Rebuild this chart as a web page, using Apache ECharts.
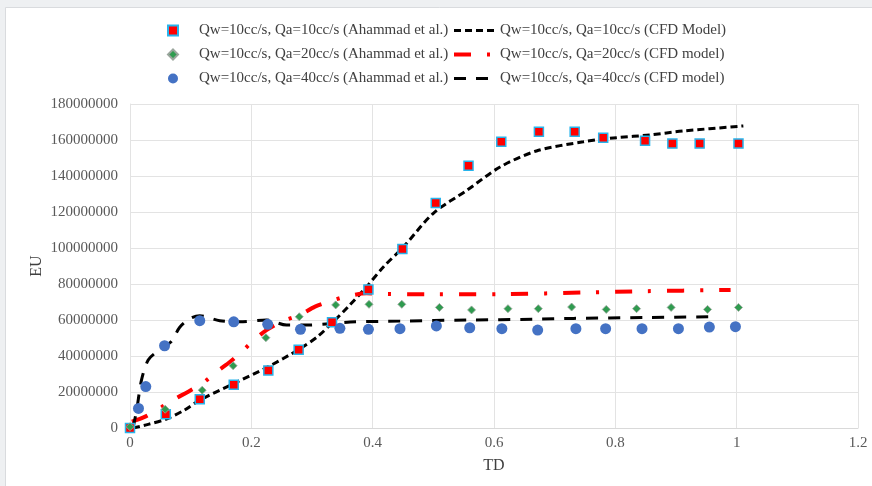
<!DOCTYPE html>
<html>
<head>
<meta charset="utf-8">
<script src="https://cdn.jsdelivr.net/npm/echarts@6/dist/echarts.min.js"></script>
<style>
  html, body { margin: 0; padding: 0; background: #eef0f2; }
  #chart { width: 872px; height: 486px; }
</style>
</head>
<body>
<div id="chart"></div>
<script>
// Experimental data (Ahammad et al.)
const exp10X = [0, 0.059, 0.115, 0.171, 0.228, 0.278, 0.333, 0.393, 0.449, 0.504, 0.558, 0.612, 0.674, 0.733, 0.780, 0.849, 0.894, 0.939, 1.003];
const exp10Y = [0, 7.6e6, 16e6, 24e6, 32e6, 43.5e6, 58.7e6, 77e6, 99.5e6, 125e6, 145.7e6, 159e6, 164.6e6, 164.6e6, 161.3e6, 159.6e6, 158e6, 158e6, 158e6];

const exp20X = [0, 0.058, 0.119, 0.170, 0.224, 0.279, 0.339, 0.394, 0.448, 0.510, 0.563, 0.623, 0.673, 0.728, 0.785, 0.835, 0.892, 0.952, 1.003];
const exp20Y = [0.7e6, 10.4e6, 21e6, 34.6e6, 50.2e6, 61.8e6, 68.4e6, 68.7e6, 68.7e6, 67e6, 65.6e6, 66.3e6, 66.3e6, 67.2e6, 65.9e6, 66.3e6, 67e6, 65.9e6, 67e6];

const exp40X = [0.014, 0.026, 0.057, 0.115, 0.171, 0.227, 0.281, 0.346, 0.393, 0.445, 0.505, 0.560, 0.613, 0.672, 0.735, 0.784, 0.844, 0.904, 0.955, 0.998];
const exp40Y = [10.9e6, 23e6, 45.7e6, 59.6e6, 59e6, 57.6e6, 54.8e6, 55.4e6, 54.8e6, 55.2e6, 56.7e6, 55.7e6, 55.2e6, 54.4e6, 55.2e6, 55.2e6, 55.2e6, 55.2e6, 56.1e6, 56.3e6];

// CFD model curves
const cfd10X = [0.005, 0.030, 0.060, 0.090, 0.115, 0.170, 0.225, 0.280, 0.310, 0.335, 0.360, 0.390, 0.418, 0.451, 0.500, 0.555, 0.610, 0.670, 0.747, 0.802, 0.857, 0.912, 1.011];
const cfd10Y = [0, 2e6, 5e6, 10e6, 15.5e6, 24.5e6, 33.5e6, 44e6, 51e6, 59e6, 67.5e6, 78.5e6, 89.6e6, 100.7e6, 119.3e6, 132e6, 145e6, 153.9e6, 159e6, 161.3e6, 162.8e6, 165e6, 167.8e6];

const cfd20X = [0.003, 0.025, 0.049, 0.071, 0.096, 0.121, 0.143, 0.165, 0.186, 0.206, 0.225, 0.253, 0.280, 0.305, 0.332, 0.360, 0.390, 0.420, 0.500, 0.620, 0.750, 0.850, 0.990];
const cfd20Y = [3.5e6, 6.3e6, 10.9e6, 15.6e6, 20.2e6, 25.2e6, 31.3e6, 36.8e6, 43e6, 49.3e6, 54.4e6, 59.6e6, 62.8e6, 67.4e6, 70.7e6, 73.3e6, 74.8e6, 74.5e6, 74.3e6, 74.4e6, 75.3e6, 76e6, 76.7e6];

const cfd40X = [0.005, 0.011, 0.019, 0.030, 0.045, 0.068, 0.082, 0.100, 0.115, 0.148, 0.181, 0.225, 0.258, 0.291, 0.335, 0.363, 0.445, 0.555, 0.665, 0.731, 0.850, 0.961];
const cfd40Y = [0, 10e6, 26.7e6, 37.8e6, 42.5e6, 48e6, 56e6, 61e6, 62.4e6, 59.6e6, 59e6, 60e6, 57.2e6, 57.2e6, 58.1e6, 58.9e6, 59.4e6, 60e6, 60.4e6, 60.9e6, 61.4e6, 61.8e6];

const xTicks = { min: 0, max: 1.2, step: 0.2 };
const yTicks = { min: 0, max: 180000000, step: 20000000 };

const names = {
  exp10: 'Qw=10cc/s, Qa=10cc/s (Ahammad et al.)',
  exp20: 'Qw=10cc/s, Qa=20cc/s (Ahammad et al.)',
  exp40: 'Qw=10cc/s, Qa=40cc/s (Ahammad et al.)',
  cfd10: 'Qw=10cc/s, Qa=10cc/s (CFD Model)',
  cfd20: 'Qw=10cc/s, Qa=20cc/s (CFD model)',
  cfd40: 'Qw=10cc/s, Qa=40cc/s (CFD model)'
};

const pairs = (xs, ys) => xs.map((x, i) => [x, ys[i]]);

const FONT = '"Liberation Serif", "Times New Roman", serif';
const chart = echarts.init(document.getElementById('chart'), null, { renderer: 'canvas' });

chart.setOption({
  animation: false,
  backgroundColor: '#eef0f2',
  graphic: [{
    type: 'rect',
    z: -10,
    silent: true,
    shape: { x: 5.5, y: 7.5, width: 880, height: 490 },
    style: { fill: '#ffffff', stroke: '#d9dbde', lineWidth: 1 }
  }],
  grid: { left: 130, right: 14, top: 104, bottom: 58 },
  legend: [
    {
      orient: 'vertical',
      left: 162, top: 18,
      itemWidth: 10, itemHeight: 10,
      itemGap: 9,
      textStyle: { fontFamily: FONT, fontSize: 15, color: '#404040', lineHeight: 14, padding: [0, 0, 0, 16] },
      data: [names.exp10, names.exp20, names.exp40]
    },
    {
      orient: 'vertical',
      left: 447, top: 18,
      itemWidth: 43, itemHeight: 14,
      itemGap: 9,
      itemStyle: { color: 'rgba(0,0,0,0)', borderWidth: 0, opacity: 0 },
      textStyle: { fontFamily: FONT, fontSize: 15, color: '#404040', lineHeight: 14, padding: [0, 0, 0, -2] },
      data: [
        { name: names.cfd10, lineStyle: { width: 3 } },
        { name: names.cfd20, lineStyle: { width: 4 } },
        { name: names.cfd40, lineStyle: { width: 3 } }
      ]
    }
  ],
  xAxis: {
    type: 'value',
    min: xTicks.min, max: xTicks.max, interval: xTicks.step,
    name: 'TD', nameLocation: 'middle', nameGap: 30,
    nameTextStyle: { fontFamily: FONT, fontSize: 16, color: '#404040' },
    axisLine: { show: true, lineStyle: { color: '#d9d9d9' } },
    axisTick: { show: false },
    axisLabel: { fontFamily: FONT, fontSize: 15, color: '#595959', margin: 8,
      formatter: v => String(Math.round(v * 10) / 10) },
    splitLine: { show: true, lineStyle: { color: '#e3e3e3' } }
  },
  yAxis: {
    type: 'value',
    min: yTicks.min, max: yTicks.max, interval: yTicks.step,
    name: 'EU', nameLocation: 'middle', nameGap: 85, nameRotate: 90,
    nameMoveOverlap: false,
    nameTextStyle: { fontFamily: FONT, fontSize: 16, color: '#404040' },
    axisLine: { show: true, lineStyle: { color: '#e3e3e3' } },
    axisTick: { show: false },
    axisLabel: { fontFamily: FONT, fontSize: 15, color: '#595959', margin: 12,
      formatter: v => String(v) },
    splitLine: { show: true, lineStyle: { color: '#e3e3e3' } }
  },
  series: [
    {
      name: names.cfd10, type: 'line', data: pairs(cfd10X, cfd10Y),
      showSymbol: false, symbol: 'none', smooth: 0.3, z: 2,
      itemStyle: { color: '#000000' },
      lineStyle: { color: '#000000', width: 3, type: [7, 4] }
    },
    {
      name: names.cfd20, type: 'line', data: pairs(cfd20X, cfd20Y),
      showSymbol: false, symbol: 'none', smooth: 0.3, z: 2,
      itemStyle: { color: '#ff0000' },
      lineStyle: { color: '#ff0000', width: 4, type: [17, 16, 3, 16] }
    },
    {
      name: names.cfd40, type: 'line', data: pairs(cfd40X, cfd40Y),
      showSymbol: false, symbol: 'none', smooth: 0.3, z: 2,
      itemStyle: { color: '#000000' },
      lineStyle: { color: '#000000', width: 3, type: [12, 10] }
    },
    {
      name: names.exp10, type: 'scatter', data: pairs(exp10X, exp10Y),
      symbol: 'rect', symbolSize: 9, z: 4,
      itemStyle: { color: '#ff0000', borderColor: '#27b4ec', borderWidth: 1.5, opacity: 1 }
    },
    {
      name: names.exp20, type: 'scatter', data: pairs(exp20X, exp20Y),
      symbol: 'diamond', symbolSize: 8, z: 4,
      itemStyle: { color: '#2f9b4f', borderColor: '#9aa59c', borderWidth: 0.8, opacity: 1 }
    },
    {
      name: names.exp40, type: 'scatter', data: pairs(exp40X, exp40Y),
      symbol: 'circle', symbolSize: 11, z: 4,
      itemStyle: { color: '#4472c4', opacity: 1 }
    }
  ]
});
</script>
</body>
</html>
